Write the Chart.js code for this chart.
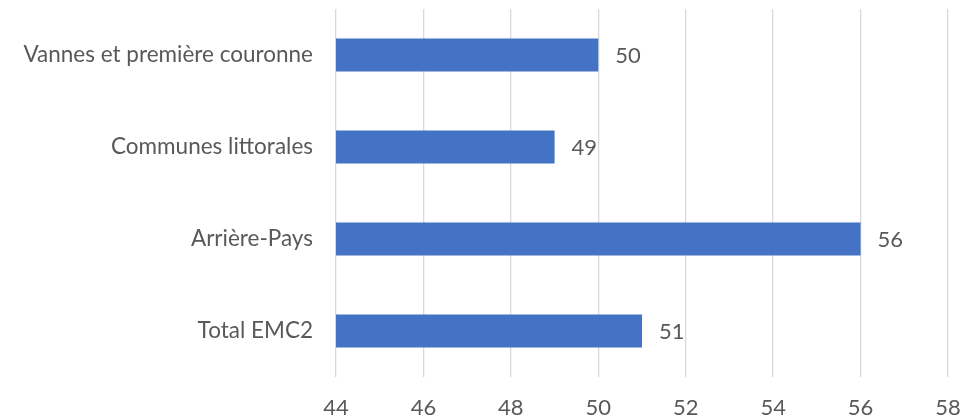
<!DOCTYPE html>
<html>
<head>
<meta charset="utf-8">
<script src="https://cdn.jsdelivr.net/npm/chart.js@4/dist/chart.umd.min.js"></script>
<style>
  html, body { margin: 0; padding: 0; background: #fff; }
  canvas { display: block; }
</style>
</head>
<body>
<canvas id="chart" width="974" height="419"></canvas>
<script>
// categories, top to bottom
const categories = ['Vannes et première couronne', 'Communes littorales', 'Arrière-Pays', 'Total EMC2'];
const values = [50, 49, 56, 51];
const axisMin = 44;
const axisMax = 58;
const axisStep = 2;

const textColor = '#595959';
const fontFamily = 'Lato, "Open Sans", sans-serif';

// value labels to the right of each bar
const barLabels = {
    id: 'barLabels',
    afterDatasetsDraw(chart) {
        const ctx = chart.ctx;
        const meta = chart.getDatasetMeta(0);
        ctx.save();
        ctx.fillStyle = textColor;
        ctx.font = '22px ' + fontFamily;
        ctx.textAlign = 'left';
        ctx.textBaseline = 'middle';
        meta.data.forEach((bar, i) => {
            ctx.fillText(String(values[i]), bar.x + 17, bar.y + 1);
        });
        ctx.restore();
    }
};

const chart = new Chart(document.getElementById('chart'), {
    type: 'bar',
    data: {
        labels: categories,
        datasets: [{
            data: values,
            backgroundColor: '#4472C4',
            borderWidth: 0,
            categoryPercentage: 1,
            barPercentage: 0.36
        }]
    },
    options: {
        responsive: false,
        indexAxis: 'y',
        animation: false,
        layout: { padding: { top: 9, right: 26, left: 0, bottom: 0 } },
        plugins: {
            legend: { display: false },
            tooltip: { enabled: false }
        },
        scales: {
            x: {
                min: axisMin,
                max: axisMax,
                ticks: {
                    stepSize: axisStep,
                    color: textColor,
                    font: { family: fontFamily, size: 22 },
                    padding: 18
                },
                grid: { color: '#d9d9d9', lineWidth: 1.3, drawTicks: false },
                border: { display: false },
                afterFit(scale) {
                    scale.height = 42;
                    scale.paddingLeft = 0;
                    scale.paddingRight = 0;
                }
            },
            y: {
                ticks: {
                    color: textColor,
                    font: { family: fontFamily, size: 22.5 },
                    padding: 23
                },
                grid: { display: false, drawTicks: false },
                border: { display: false },
                afterFit(scale) {
                    scale.width = 336;
                    scale.paddingTop = 0;
                    scale.paddingBottom = 0;
                }
            }
        }
    },
    plugins: [barLabels]
});
</script>
</body>
</html>
